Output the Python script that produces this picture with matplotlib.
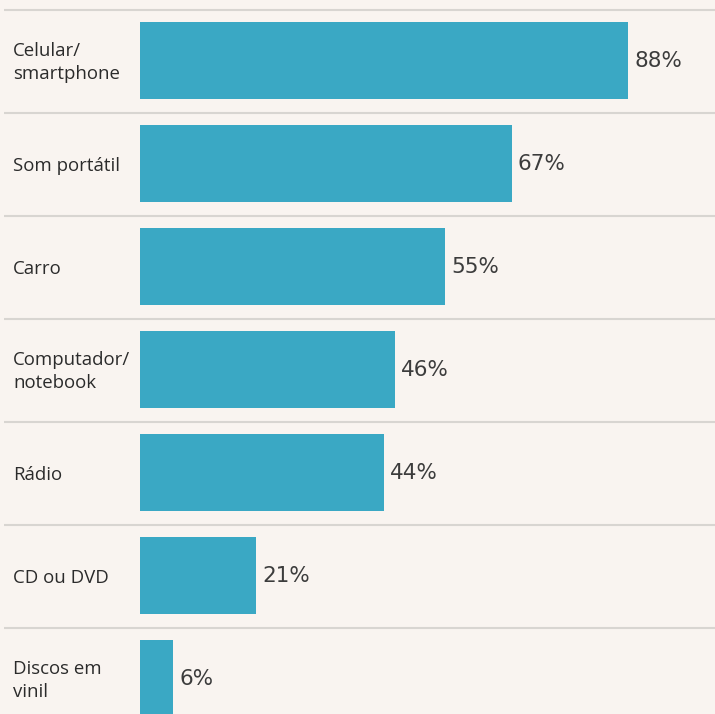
import matplotlib.pyplot as plt

categories = ["Celular/\nsmartphone", "Som portátil", "Carro", "Computador/\nnotebook",
              "Rádio", "CD ou DVD", "Discos em\nvinil"]
values = [88, 67, 55, 46, 44, 21, 6]

BG = "#f9f4f0"
BAR = "#3aa8c4"
SEP = "#d8d5d1"

fig = plt.figure(figsize=(7.15, 7.14), dpi=100, facecolor=BG)
ax = fig.add_axes([0, 0, 1, 1], facecolor=BG)

rows = list(range(len(values)))
ax.barh(rows, values, height=0.7476, color=BAR, left=0)

for i, (cat, v) in enumerate(zip(categories, values)):
    ax.text(-22.9, i + 0.02, cat, ha="left", va="center", fontsize=13.4, color="#2b2b2b",
            family="Open Sans", linespacing=1.3)
    ax.text(v + 1.1, i + 0.005, f"{v}%", ha="left", va="center", fontsize=15.5,
            color="#3c3c3c", family="DejaVu Sans")
    ax.plot([-24.5, 104], [i - 0.49, i - 0.49], color=SEP, lw=1.5, solid_capstyle="butt")

ax.set_xlim(-25.25, 103.7)
ax.set_ylim(6.345, -0.587)
ax.axis("off")

fig.savefig("out.png", dpi=100, facecolor=BG)
